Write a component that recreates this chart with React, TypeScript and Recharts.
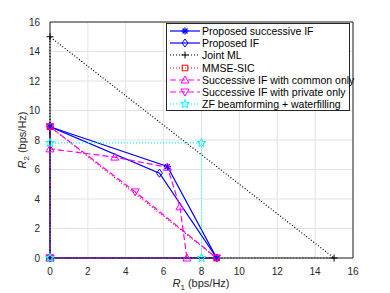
import React from "react";
import { LineChart, Line, XAxis, YAxis, CartesianGrid, ReferenceLine, Label } from "recharts";

// rate points (R1, R2) for each scheme
const succIfR1 = [0, 0, 6.2, 8.8, 0];
const succIfR2 = [0, 8.9, 6.2, 0, 0];
const propIfR1 = [0, 0, 5.78, 8.8, 0];
const propIfR2 = [0, 8.9, 5.75, 0, 0];
const jointMlR1 = [0, 0, 15, 0];
const jointMlR2 = [0, 15, 0, 0];
const mmseR1 = [0, 0, 8.8, 0];
const mmseR2 = [0, 8.9, 0, 0];
const commonR1 = [0, 0, 3.42, 6.2, 6.86, 7.23, 0];
const commonR2 = [0, 7.4, 6.84, 6.15, 3.47, 0, 0];
const privateR1 = [0, 0, 4.5, 8.8, 0];
const privateR2 = [0, 8.9, 4.48, 0, 0];
const zfR1 = [0, 0, 8, 8, 0];
const zfR2 = [0, 7.8, 7.8, 0, 0];

const ticks = [0, 2, 4, 6, 8, 10, 12, 14, 16];

const pts = (xs: number[], ys: number[]) => xs.map((x, i) => ({ x, y: ys[i] }));

type Shape = "asterisk" | "diamond" | "plus" | "square" | "up" | "down" | "star";

interface SeriesDef {
  name: string;
  data: { x: number; y: number }[];
  color: string;
  dash?: string;
  shape: Shape;
}

const series: SeriesDef[] = [
  { name: "Proposed successive IF", data: pts(succIfR1, succIfR2), color: "#0000ff", shape: "asterisk" },
  { name: "Proposed IF", data: pts(propIfR1, propIfR2), color: "#0000ff", shape: "diamond" },
  { name: "Joint ML", data: pts(jointMlR1, jointMlR2), color: "#000000", dash: "1 2", shape: "plus" },
  { name: "MMSE-SIC", data: pts(mmseR1, mmseR2), color: "#ff0000", dash: "1 2", shape: "square" },
  { name: "Successive IF with common only", data: pts(commonR1, commonR2), color: "#ff00ff", dash: "6 3", shape: "up" },
  { name: "Successive IF with private only", data: pts(privateR1, privateR2), color: "#ff00ff", dash: "6 3", shape: "down" },
  { name: "ZF beamforming + waterfilling", data: pts(zfR1, zfR2), color: "#00ffff", dash: "1 2", shape: "star" },
];

function marker(shape: Shape, color: string, cx: number, cy: number) {
  const s = 3.5;
  const common = { fill: "none", stroke: color, strokeWidth: 1 };
  switch (shape) {
    case "asterisk":
      return (
        <g stroke={color} strokeWidth={1.2}>
          <line x1={cx - s} y1={cy} x2={cx + s} y2={cy} />
          <line x1={cx} y1={cy - s} x2={cx} y2={cy + s} />
          <line x1={cx - 2.5} y1={cy - 2.5} x2={cx + 2.5} y2={cy + 2.5} />
          <line x1={cx - 2.5} y1={cy + 2.5} x2={cx + 2.5} y2={cy - 2.5} />
        </g>
      );
    case "diamond":
      return <polygon points={`${cx},${cy - 4} ${cx + 3},${cy} ${cx},${cy + 4} ${cx - 3},${cy}`} {...common} />;
    case "plus":
      return (
        <g stroke={color} strokeWidth={1}>
          <line x1={cx - s} y1={cy} x2={cx + s} y2={cy} />
          <line x1={cx} y1={cy - s} x2={cx} y2={cy + s} />
        </g>
      );
    case "square":
      return <rect x={cx - 2.8} y={cy - 2.8} width={5.6} height={5.6} {...common} />;
    case "up":
      return <polygon points={`${cx},${cy - 4} ${cx + 4},${cy + 3} ${cx - 4},${cy + 3}`} {...common} />;
    case "down":
      return <polygon points={`${cx},${cy + 4} ${cx + 4},${cy - 3} ${cx - 4},${cy - 3}`} {...common} />;
    case "star": {
      const p: string[] = [];
      for (let i = 0; i < 10; i++) {
        const r = i % 2 === 0 ? 4.5 : 1.9;
        const a = -Math.PI / 2 + (i * Math.PI) / 5;
        p.push(`${cx + r * Math.cos(a)},${cy + r * Math.sin(a)}`);
      }
      return <polygon points={p.join(" ")} {...common} />;
    }
  }
}

const FONT = "Liberation Sans, Arial, Helvetica, sans-serif";

function LegendBox() {
  return (
    <div
      style={{
        position: "absolute",
        left: 166,
        top: 23,
        width: 184,
        height: 88,
        border: "1px solid #262626",
        background: "#fff",
        boxSizing: "border-box",
        padding: "1px 0 0 2px",
        fontFamily: FONT,
        fontSize: 10.5,
        color: "#000",
      }}
    >
      {series.map((s) => (
        <div key={s.name} style={{ display: "flex", alignItems: "center", height: 12.2, whiteSpace: "nowrap" }}>
          <svg width={32} height={12} style={{ flexShrink: 0 }}>
            <line x1={1} y1={6} x2={31} y2={6} stroke={s.color} strokeWidth={1.2} strokeDasharray={s.dash} />
            {marker(s.shape, s.color, 16, 6)}
          </svg>
          <span style={{ marginLeft: 1 }}>{s.name}</span>
        </div>
      ))}
    </div>
  );
}

const tickStyle = { fill: "#262626", fontSize: 10, fontFamily: FONT };

export default function App() {
  return (
    <div style={{ position: "absolute", left: 0, top: 0, width: 390, height: 293, background: "#fff" }}>
      <LineChart width={390} height={293} margin={{ top: 22, right: 37, left: 0, bottom: 0 }}>
        <CartesianGrid stroke="#e3e3e3" strokeWidth={1} />
        <XAxis
          type="number"
          dataKey="x"
          domain={[0, 16]}
          ticks={ticks}
          height={35}
          stroke="#262626"
          tickLine={false}
          tick={tickStyle}
          tickMargin={4}
        >
          <Label
            content={() => (
              <text x={201} y={287} textAnchor="middle" fontFamily={FONT} fontSize={11} fill="#262626">
                <tspan fontStyle="italic">R</tspan>
                <tspan dy={3} fontSize={8}>1</tspan>
                <tspan dy={-3}> (bps/Hz)</tspan>
              </text>
            )}
          />
        </XAxis>
        <YAxis
          type="number"
          dataKey="y"
          domain={[0, 16]}
          ticks={ticks}
          width={50}
          stroke="#262626"
          tickLine={false}
          tick={tickStyle}
          tickMargin={4}
        >
          <Label
            content={() => (
              <text
                x={26}
                y={140}
                textAnchor="middle"
                transform="rotate(-90 26 140)"
                fontFamily={FONT}
                fontSize={11}
                fill="#262626"
              >
                <tspan fontStyle="italic">R</tspan>
                <tspan dy={3} fontSize={8}>2</tspan>
                <tspan dy={-3}> (bps/Hz)</tspan>
              </text>
            )}
          />
        </YAxis>
        <ReferenceLine y={16} stroke="#262626" />
        <ReferenceLine x={16} stroke="#262626" />
        {series.map((s) => (
          <Line
            key={s.name}
            data={s.data}
            dataKey="y"
            type="linear"
            stroke={s.color}
            strokeWidth={1.2}
            strokeDasharray={s.dash}
            isAnimationActive={false}
            legendType="none"
            dot={(p: any) => <g key={`${s.name}-${p.index}`}>{marker(s.shape, s.color, p.cx, p.cy)}</g>}
            activeDot={false}
          />
        ))}
      </LineChart>
      <LegendBox />
    </div>
  );
}
